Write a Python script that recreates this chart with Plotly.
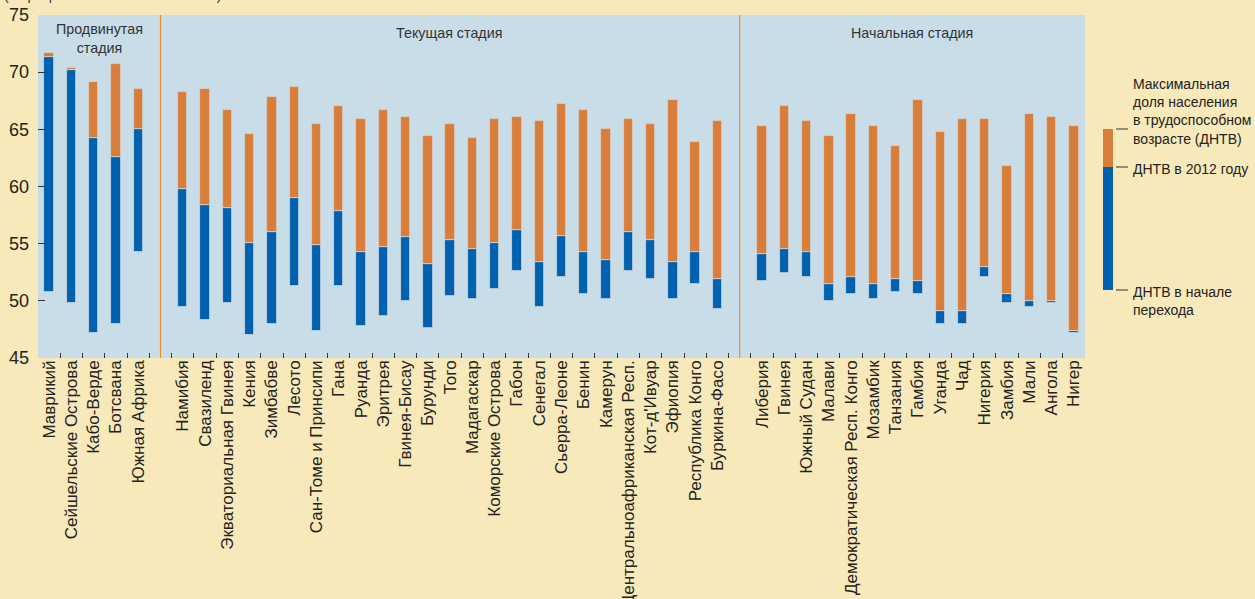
import plotly.graph_objects as go

# ---------------- data ----------------
adv_names = ["Маврикий", "Сейшельские Острова", "Кабо-Верде", "Ботсвана", "Южная Африка"]
adv_start = [50.8, 49.8, 47.2, 48.0, 54.3]
adv_2012 = [71.3, 70.2, 64.2, 62.6, 65.0]
adv_max = [71.7, 70.4, 69.1, 70.7, 68.5]

cur_names = ["Намибия", "Свазиленд", "Экваториальная Гвинея", "Кения", "Зимбабве", "Лесото",
             "Сан-Томе и Принсипи", "Гана", "Руанда", "Эритрея", "Гвинея-Бисау", "Бурунди",
             "Того", "Мадагаскар", "Коморские Острова", "Габон", "Сенегал", "Сьерра-Леоне",
             "Бенин", "Камерун", "Центральноафриканская Респ.", "Кот-д'Ивуар", "Эфиопия",
             "Республика Конго", "Буркина-Фасо"]
cur_start = [49.5, 48.3, 49.8, 47.0, 48.0, 51.3, 47.4, 51.3, 47.8, 48.7, 50.0, 47.6,
             50.4, 50.2, 51.0, 52.6, 49.5, 52.1, 50.6, 50.2, 52.6, 51.9, 50.2, 51.5, 49.3]
cur_2012 = [59.8, 58.4, 58.1, 55.1, 56.0, 59.0, 54.9, 57.9, 54.3, 54.7, 55.6, 53.2,
            55.3, 54.5, 55.1, 56.2, 53.4, 55.7, 54.3, 53.6, 56.0, 55.3, 53.4, 54.3, 51.9]
cur_max = [68.3, 68.5, 66.7, 64.6, 67.8, 68.7, 65.5, 67.0, 65.9, 66.7, 66.1, 64.4,
           65.5, 64.2, 65.9, 66.1, 65.7, 67.2, 66.7, 65.0, 65.9, 65.5, 67.6, 63.9, 65.7]

ini_names = ["Либерия", "Гвинея", "Южный Судан", "Малави", "Демократическая Респ. Конго",
             "Мозамбик", "Танзания", "Гамбия", "Уганда", "Чад", "Нигерия", "Замбия",
             "Мали", "Ангола", "Нигер"]
ini_start = [51.7, 52.4, 52.1, 50.0, 50.6, 50.2, 50.8, 50.6, 48.0, 48.0, 52.1, 49.8, 49.5, 49.8, 47.2]
ini_2012 = [54.1, 54.5, 54.3, 51.5, 52.1, 51.5, 51.9, 51.7, 49.1, 49.1, 53.0, 50.6, 50.0, 50.0, 47.4]
ini_max = [65.3, 67.0, 65.7, 64.4, 66.3, 65.3, 63.5, 67.6, 64.8, 65.9, 65.9, 61.8, 66.3, 66.1, 65.3]

group_labels = ["Продвинутая<br>стадия", "Текущая стадия", "Начальная стадия"]
gap1, gap2 = " ", "  "
y_ticks = [45, 50, 55, 60, 65, 70, 75]

# ---------------- build ----------------
names = adv_names + cur_names + ini_names
start = adv_start + cur_start + ini_start
v2012 = adv_2012 + cur_2012 + ini_2012
vmax = adv_max + cur_max + ini_max
cat_order = adv_names + [gap1] + cur_names + [gap2] + ini_names

BLUE = "#0061AE"
ORANGE = "#D97D3B"
DIV = "#EA8E26"
PAPER = "#F8E9BA"
PLOT = "#C9DDE8"
TXT = "#222222"
FONT = "Liberation Sans, Arial, sans-serif"

fig = go.Figure()
fig.add_trace(go.Bar(
    x=names, y=[b - a for a, b in zip(start, v2012)], base=start,
    marker=dict(color=BLUE, line=dict(color="rgba(215,222,230,0.9)", width=0.8)),
    width=0.42, showlegend=False, hoverinfo="skip"))
fig.add_trace(go.Bar(
    x=names, y=[b - a for a, b in zip(v2012, vmax)], base=v2012,
    marker=dict(color=ORANGE, line=dict(color="rgba(215,215,215,0.9)", width=0.8)),
    width=0.42, showlegend=False, hoverinfo="skip"))

# dividers
for g in (gap1, gap2):
    fig.add_shape(type="line", xref="x", yref="paper", x0=g, x1=g, y0=0, y1=1,
                  line=dict(color=DIV, width=1.2), layer="below")

W, H = 1047.0, 343.0
def px(x):
    return (x - 38.0) / W
def py(y):
    return (358.0 - y) / H

# group labels
fig.add_annotation(xref="paper", yref="paper", x=px(99), y=py(38.5), text=group_labels[0],
                   showarrow=False, font=dict(family=FONT, size=14.3, color="#333333"),
                   xanchor="center", yanchor="middle")
fig.add_annotation(xref="paper", yref="paper", x=px(449), y=py(33), text=group_labels[1],
                   showarrow=False, font=dict(family=FONT, size=14.3, color="#333333"),
                   xanchor="center", yanchor="middle")
fig.add_annotation(xref="paper", yref="paper", x=px(912), y=py(33), text=group_labels[2],
                   showarrow=False, font=dict(family=FONT, size=14.3, color="#333333"),
                   xanchor="center", yanchor="middle")

# header line, cut off at the very top as in the source
fig.add_annotation(xref="paper", yref="paper", x=px(2), y=py(-5),
                   text="(в процентах от всего населения)", showarrow=False,
                   font=dict(family=FONT, size=14, color="#333333"),
                   xanchor="left", yanchor="middle")

# legend key
fig.add_shape(type="rect", xref="paper", yref="paper", x0=px(1103), x1=px(1113),
              y0=py(167), y1=py(129), fillcolor=ORANGE, line=dict(width=0))
fig.add_shape(type="rect", xref="paper", yref="paper", x0=px(1103), x1=px(1113),
              y0=py(290), y1=py(167), fillcolor=BLUE, line=dict(width=0))
for yy in (129, 167, 290):
    fig.add_shape(type="line", xref="paper", yref="paper", x0=px(1116), x1=px(1128),
                  y0=py(yy), y1=py(yy), line=dict(color="#333333", width=1))
legend_texts = [
    ("Максимальная<br>доля населения<br>в трудоспособном<br>возрасте (ДНТВ)", 111.5),
    ("ДНТВ в 2012 году", 169),
    ("ДНТВ в начале<br>перехода", 301),
]
for t, yy in legend_texts:
    fig.add_annotation(xref="paper", yref="paper", x=px(1131), y=py(yy), text=t,
                       showarrow=False, align="left", xanchor="left", yanchor="middle",
                       font=dict(family=FONT, size=14, color=TXT))

fig.update_layout(
    width=1255, height=599,
    margin=dict(l=38, r=170, t=15, b=241, pad=0, autoexpand=False),
    paper_bgcolor=PAPER, plot_bgcolor=PLOT,
    barmode="overlay", bargap=0,
    font=dict(family=FONT, color=TXT),
    xaxis=dict(type="category", categoryorder="array", categoryarray=cat_order,
               range=[-0.5, len(cat_order) - 0.5], automargin=False,
               tickson="boundaries", ticks="inside", ticklen=5, tickwidth=1.2, tickcolor="#333333",
               tickangle=-90, tickfont=dict(family=FONT, size=17, color=TXT),
               ticklabelstandoff=-2,
               showgrid=False, zeroline=False, showline=False, fixedrange=True),
    yaxis=dict(range=[45, 75], tickvals=y_ticks, ticks="inside", ticklen=7, tickwidth=1.2,
               tickcolor="#333333", tickfont=dict(family=FONT, size=18, color=TXT),
               ticklabelstandoff=8, automargin=False,
               showgrid=False, zeroline=False, showline=False, fixedrange=True),
)

fig.write_html("out.html", config={"displayModeBar": False},
               post_script="document.body.style.margin='0';document.body.style.overflow='hidden';")
